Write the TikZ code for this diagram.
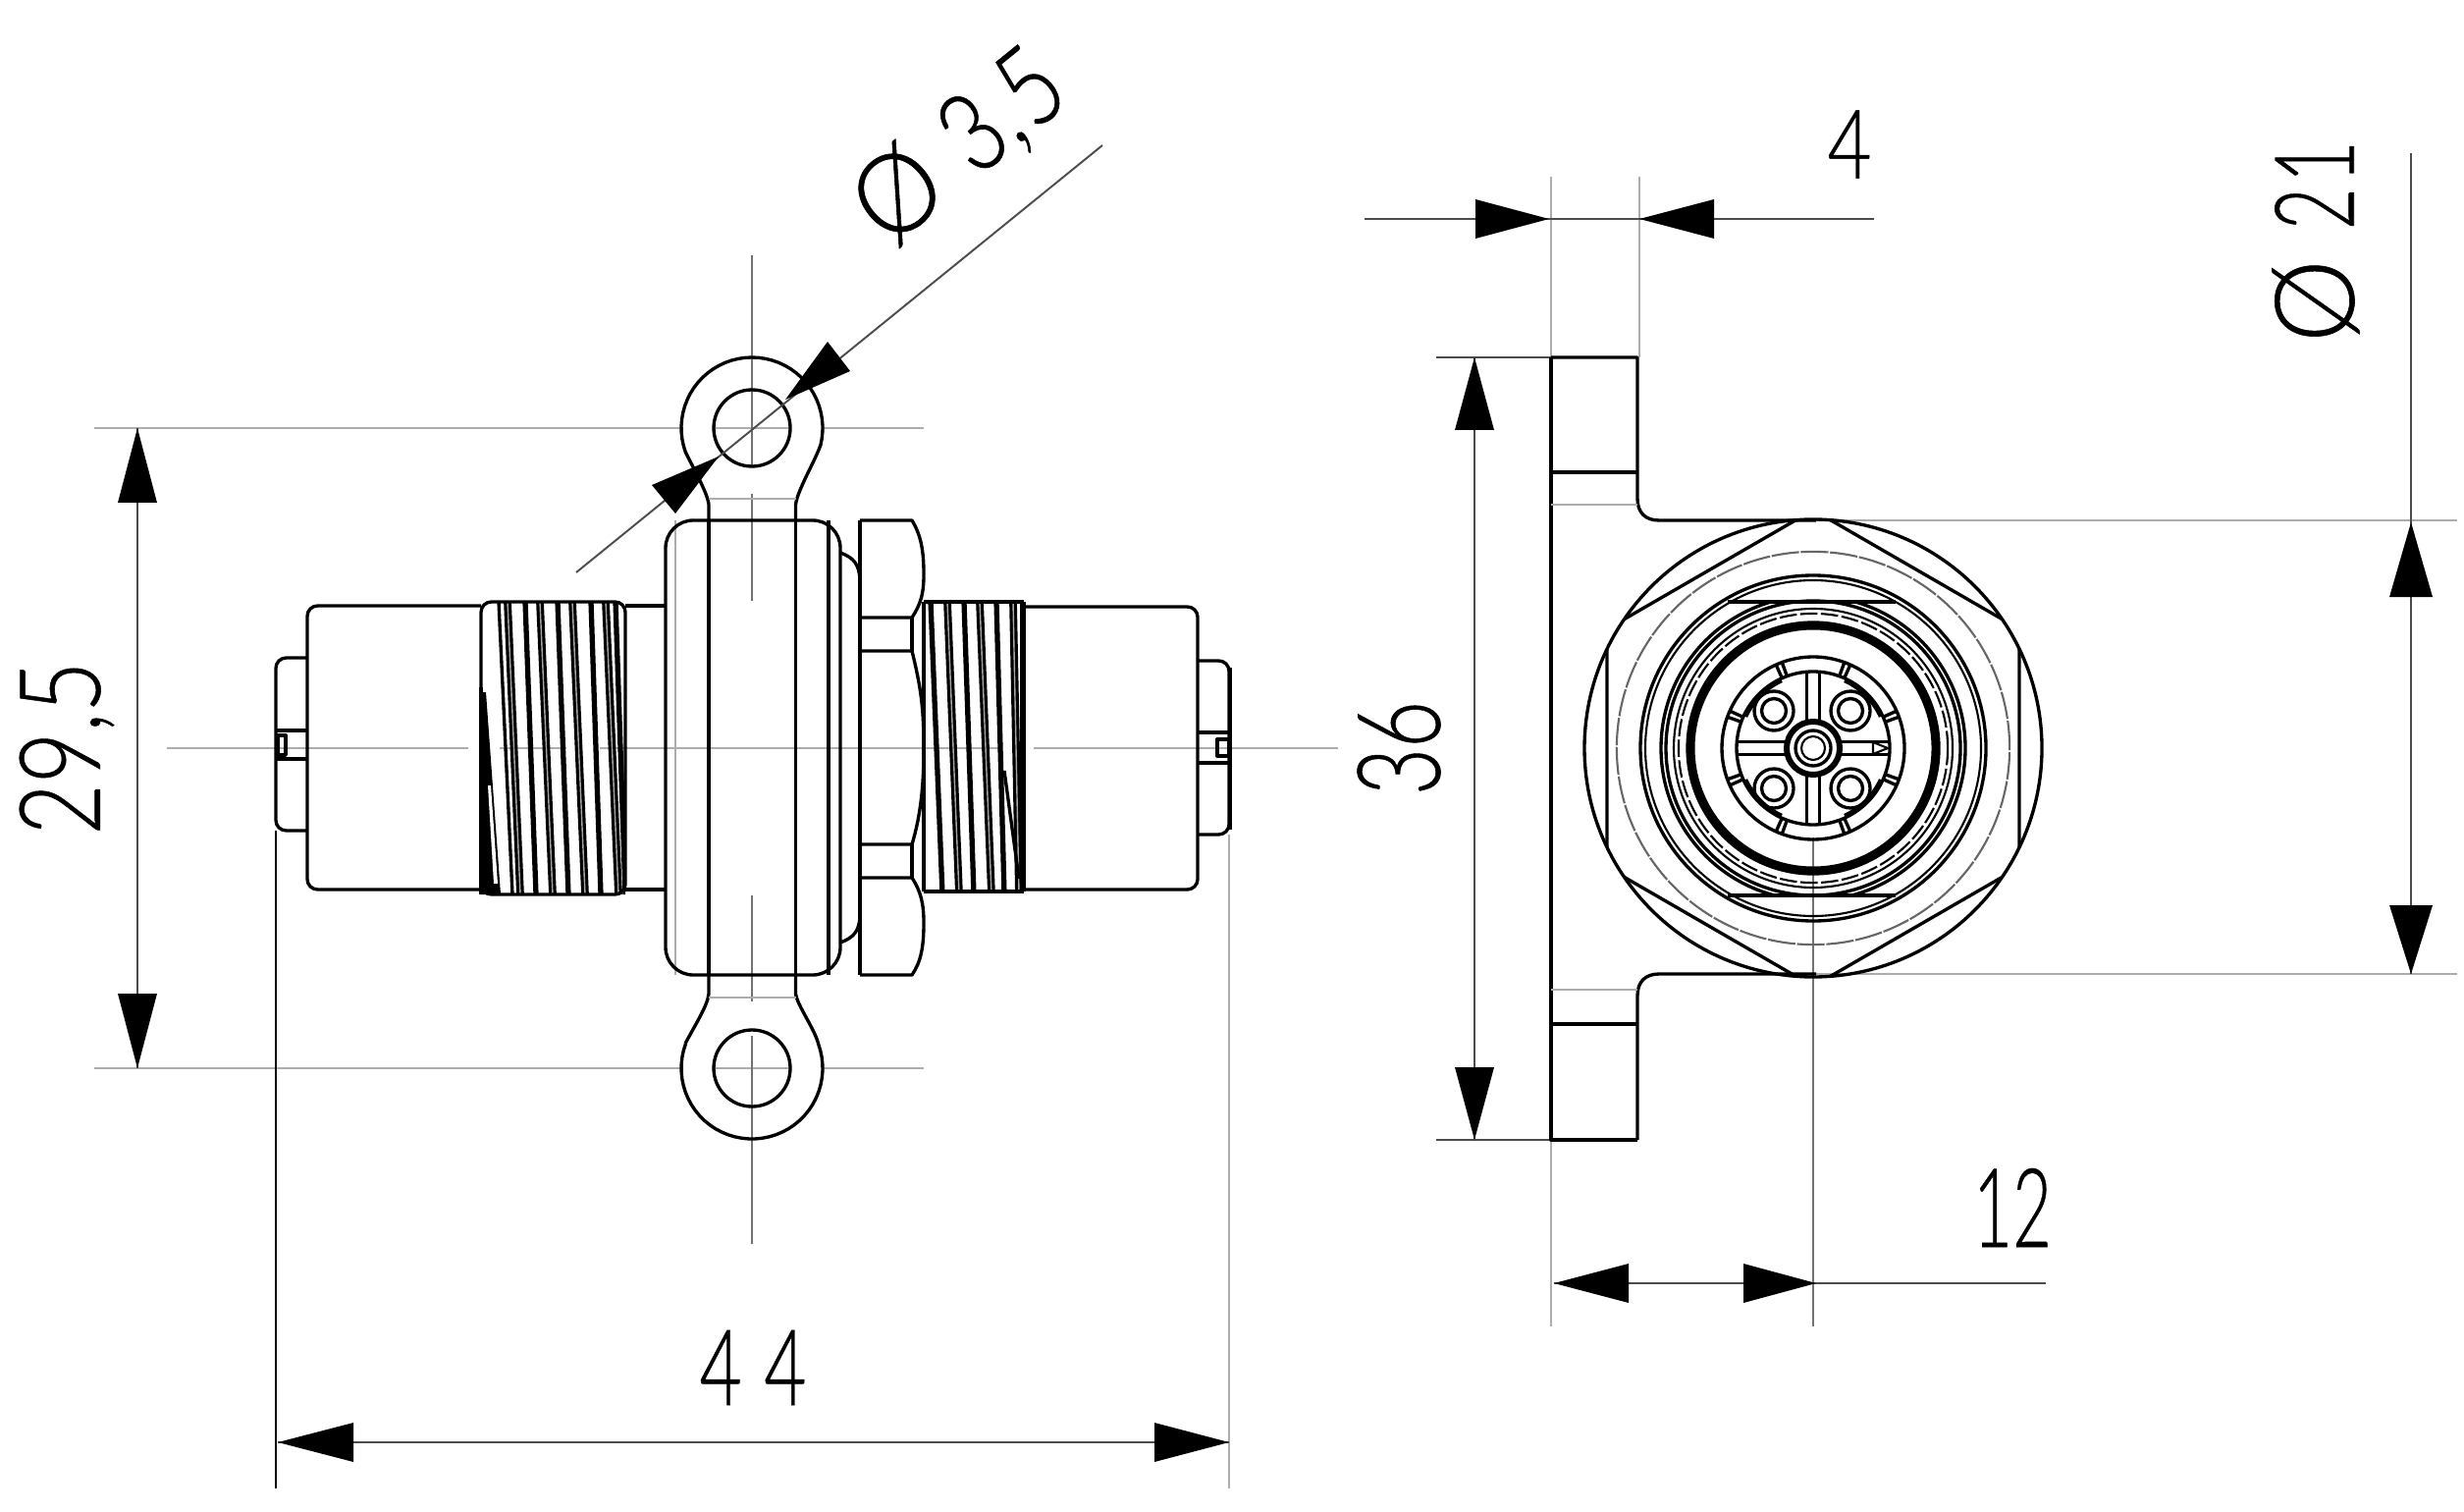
\documentclass[tikz,border=0pt]{standalone}
\usepackage{fontspec}
\usepackage{graphicx}
\newfontfamily\dn[FakeBold=0.5]{Lato Light}
\newcommand{\dimt}[3]{\resizebox{#1cm}{#2cm}{\dn #3}}
\newcommand{\dg}[1]{\scalebox{.8}[1]{#1}}
\newcommand{\dgn}[1]{\scalebox{.66}[1]{#1}}
\newcommand{\cir}[4][ol]{\draw[#1] (#2,#3) circle[radius=#4*0.01cm];}
\newcommand{\arcp}[6][ol]{\draw[#1] plot[domain=#5:#6,samples=30] ({#2+#4*cos(\x)},{#3-#4*sin(\x)});}
\newcommand{\thk}[2]{\draw[threadthick] (#1,613) -- (#2,911);}
\newcommand{\dbl}[2]{\draw[threaddouble] (#1,613) -- (#2,911);\draw[threadcore] (#1,613) -- (#2,911);}
\tikzset{
  ol/.style={line width=0.95pt,black,line join=round},
  olb/.style={line width=1.3pt,black,line join=round},
  olt/.style={line width=0.6pt,black,line join=round},
  threadthick/.style={line width=1.5pt,black},
  threaddouble/.style={line width=2.2pt,black},
  threadcore/.style={line width=0.4pt,black!35},
  ext/.style={line width=0.8pt,black!32},
  dimline/.style={line width=0.55pt,black!70},
  cl/.style={line width=0.5pt,black!55},
  hd/.style={fill=black,draw=none},
  lab/.style={inner sep=0pt,outer sep=0pt,black}
}
\begin{document}
\begin{tikzpicture}[x=0.01cm,y=-0.01cm]
\useasboundingbox (0,0) rectangle (2510,1540);
\fill[white] (0,0) rectangle (2510,1540);

% ---------- left view: centre and extension lines
\draw[ext] (96,436) -- (695,436) (727,436) -- (805,436) (839,436) -- (941,436);
\draw[ext] (96,1088) -- (695,1088) (727,1088) -- (805,1088) (839,1088) -- (941,1088);
\draw[ext] (170,762) -- (477,762) (509,762) -- (577,762) (611,762) -- (1018,762) (1053,762) -- (1363,762);
\draw[cl] (766,260) -- (766,475) (766,503) -- (766,612);
\draw[cl] (766,912) -- (766,1020) (766,1055) -- (766,1267);
\draw[ext] (688,530) -- (688,993);
\draw[dimline,black] (281,846) -- (281,1516);
\draw[ext] (1252,850) -- (1252,1516);

% eyelets
\cir{766}{436}{39}
\cir{766}{1088}{39}
\draw[ol] (722,530) -- (722,514) .. controls (721,503) and (708,480) .. (698,460)
  plot[domain=200:-14,samples=40] ({766+72*cos(\x)},{436-72*sin(\x)})
  .. controls (830,470) and (812,500) .. (810.5,514) -- (810.5,530);
\draw[ol] (722,993) -- (722,1012) .. controls (721,1024) and (708,1044) .. (698,1063)
  plot[domain=160:380,samples=40] ({766+72*cos(\x)},{1088-72*sin(\x)})
  .. controls (830,1048) and (812,1024) .. (810.5,1012) -- (810.5,993);
\draw[ext,line width=.6pt] (722,508) -- (810.5,508) (722,1016) -- (810.5,1016);

% clamp body
\draw[ol,rounded corners=8] (678,993) rectangle (856,530);
\draw[ol] (722,530) -- (722,993) (810.5,530) -- (810.5,993) (844,530) -- (844,993);
% washer
\draw[ol] (856,563) .. controls (870,568) and (875,575) .. (876,590);
\draw[ol] (856,960) .. controls (870,955) and (875,948) .. (876,934);
% nut
\draw[ol] (876,530) -- (876,993);
\draw[ol] (876,530) -- (929,530) .. controls (938,545) and (941,560) .. (941,585) .. controls (941,605) and (938,615) .. (929,629) -- (876,629);
\draw[ol] (876,663) -- (929,663) .. controls (938,700) and (941,720) .. (941,762) .. controls (941,800) and (938,830) .. (929,860) -- (876,860);
\draw[ol] (876,894) -- (929,894) .. controls (938,908) and (941,920) .. (941,940) .. controls (941,965) and (938,980) .. (929,993) -- (876,993);
\draw[ol] (929,629) -- (929,663) (929,860) -- (929,894);

% left body
\draw[ol,rounded corners=3] (490,617) -- (313,617) -- (313,906) -- (490,906);
\draw[ol] (637,617) -- (678,617) (637,906) -- (678,906);
\draw[ol,rounded corners=3] (313,670) -- (281,670) -- (281,846) -- (313,846);
\draw[ol] (281,744) -- (313,744) (281,773) -- (313,773);
\draw[ol] (283,749) rectangle (291,769);
% left thread
\begin{scope}
\clip (490,613) rectangle (637,911);
\thk{535}{546} \thk{568}{579} \thk{602}{612}
\dbl{517}{530} \dbl{550}{563} \dbl{583}{596} \dbl{617}{630}
\draw[ol] (508,613) -- (522,911);
\draw[threadthick] (627,613) -- (637,911);
\fill (489,705) -- (495,705) -- (510,911) -- (489,911) -- cycle;
\end{scope}
\fill[white] (497,800) -- (500,800) -- (507,900) -- (503,900) -- cycle;
\draw[ol,rounded corners=3] (490,613) rectangle (637,911);
\draw[olb] (490,700) -- (490,911);

% right thread and body
\begin{scope}
\clip (941,613) rectangle (1043,908);
\thk{948}{960} \thk{982}{992} \thk{1015}{1023}
\dbl{965}{977} \dbl{998}{1010} \dbl{1032}{1038}
\draw[ol] (1023,785) -- (1038,895);
\end{scope}
\draw[ol] (941,613) -- (1043,613) (941,908) -- (1043,908) (941,613) -- (941,908);
\draw[line width=1.7pt] (1042,613) -- (1042,908);
\draw[ol,rounded corners=3] (1043,618) -- (1220,618) -- (1220,906) -- (1043,906);
\draw[ol,rounded corners=3] (1220,673) -- (1252,673) -- (1252,850) -- (1220,850);
\draw[line width=1.2pt] (1253,680) -- (1253,845);
\draw[ol] (1220,746) -- (1252,746) (1220,777) -- (1252,777);
\draw[ol] (1240,753) rectangle (1252,770);

% ---------- dimension 44
\draw[dimline] (283,1469) -- (1252,1469);
\fill[hd] (283,1469) -- (360,1449) -- (360,1489) -- cycle;
\fill[hd] (1252,1469) -- (1176,1449) -- (1176,1489) -- cycle;
\node[lab] (t44) at (767,1393) {\dimt{1.09}{.76}{4\kern.3em 4}};

% dimension 29,5
\draw[dimline] (140,436) -- (140,1088);
\fill[hd] (140,436) -- (120,512) -- (160,512) -- cycle;
\fill[hd] (140,1088) -- (120,1012) -- (160,1012) -- cycle;
\node[lab,rotate=90] (t295) at (68,762) {\dimt{1.77}{.82}{29,5}};

% dimension dia 3,5
\draw[dimline] (587,583) -- (1123,148);
\fill[hd] (800,407) -- (843,348) -- (866,378) -- cycle;
\fill[hd] (732,465) -- (664,494) -- (688,523) -- cycle;
\node[lab,rotate=39] (t35) at (978,151) {\dn\fontsize{32pt}{32pt}\selectfont \scalebox{.95}[1]{Ø}\kern.3cm\dg{3,\kern.04cm 5}};

% ---------- right view
\draw[ext] (1580,180) -- (1580,364);
\draw[ext] (1670,180) -- (1670,364);
\draw[ext] (1580,1161) -- (1580,1351);
\draw[ext] (1850,530) -- (2503,530);
\draw[ext] (1850,992) -- (2503,992);
\draw[dimline] (1463,364) -- (1580,364);
\draw[dimline] (1463,1161) -- (1580,1161);
\draw[cl] (1847,853) -- (1847,1351);

% flange
\draw[ol] (1580,364) -- (1668,364) -- (1668,508) .. controls (1668,522) and (1676,530) .. (1690,530) -- (1850,530);
\draw[ol] (1668,1161) -- (1668,1014) .. controls (1668,1000) and (1676,992) .. (1690,992) -- (1850,992);
\draw[ol] (1580,364) -- (1580,1161) -- (1668,1161);
\draw[ol] (1580,481) -- (1668,481) (1580,1043) -- (1668,1043);
\draw[ext] (1580,514) -- (1668,514) (1580,1008) -- (1668,1008);

% nut
\cir{1847}{762}{233}
\begin{scope}
\clip (1847,762) circle[radius=2.33cm];
\draw[ol] (1847,519.5) -- (2057,640.75) -- (2057,883.25) -- (1847,1004.5) -- (1637,883.25) -- (1637,640.75) -- cycle;
\end{scope}
\draw[olt,black!60,dash pattern=on 8pt off .5pt] (1847,762) circle[radius=2cm];
\cir{1847}{762}{176}
\cir[olt]{1847}{762}{171}
\begin{scope}
\clip (1690,613) rectangle (2005,912);
\cir{1847}{762}{155}
\end{scope}
\draw[ol] (1760,613) -- (1931,613) (1760,912) -- (1931,912);
\cir{1847}{762}{150}
\cir[olt]{1847}{762}{142}
\draw[olt,dash pattern=on 5pt off 1pt] (1847,762) circle[radius=1.37cm];
\draw[line width=2.6pt] (1847,762) circle[radius=1.25cm];

% insert
\cir{1847}{762}{93}
\cir{1847}{762}{78}
\foreach \a in {22,68,112,158,202,248,292,338}{
  \draw[ol] ({1847+78*cos(\a-2)},{762-78*sin(\a-2)}) -- ({1847+92*cos(\a-2)},{762-92*sin(\a-2)});
  \draw[ol] ({1847+78*cos(\a+2)},{762-78*sin(\a+2)}) -- ({1847+92*cos(\a+2)},{762-92*sin(\a+2)});
}
\foreach \b in {45,135,225,315}{
  \arcp[line width=1.2pt]{1847}{762}{76}{\b-20}{\b+20}
}
\draw[ol] (1840.5,686) -- (1840.5,735) (1853.5,686) -- (1853.5,735);
\draw[ol] (1840.5,790) -- (1840.5,838) (1853.5,790) -- (1853.5,838);
\draw[ol] (1770,755.5) -- (1820,755.5) (1770,768.5) -- (1820,768.5);
\draw[ol] (1875,755.5) -- (1925,755.5) (1875,768.5) -- (1925,768.5);
\draw[olt] (1908,756) -- (1923,762) -- (1908,768) -- cycle;
\draw[line width=1.7pt] (1847,762) circle[radius=.27cm];
\cir{1847}{762}{18}
\cir[olt]{1847}{762}{12}
\foreach \px/\py in {1807/724,1885/724,1807/803,1885/803}{
  \cir{\px}{\py}{20}
  \cir{\px}{\py}{12.5}
}

% dimension 4
\draw[dimline] (1390,223) -- (1909,223);
\fill[hd] (1578,223) -- (1503,203) -- (1503,243) -- cycle;
\fill[hd] (1670,223) -- (1746,203) -- (1746,243) -- cycle;
\node[lab] (t4) at (1884,147) {\dimt{.45}{.69}{4}};

% dimension 36
\draw[dimline] (1502,364) -- (1502,1161);
\fill[hd] (1502,364) -- (1482,438) -- (1522,438) -- cycle;
\fill[hd] (1502,1161) -- (1482,1087) -- (1522,1087) -- cycle;
\node[lab,rotate=90] (t36) at (1425,762) {\dimt{.96}{.84}{36}};

% dimension 12
\draw[dimline] (1583,1307) -- (2084,1307);
\fill[hd] (1583,1307) -- (1659,1287) -- (1659,1327) -- cycle;
\fill[hd] (1850,1307) -- (1776,1287) -- (1776,1327) -- cycle;
\node[lab] (t12) at (2050,1230) {\dimt{.80}{.80}{12}};

% dimension dia 21
\draw[dimline] (2456,156) -- (2456,992);
\fill[hd] (2456,532) -- (2434,608) -- (2478,608) -- cycle;
\fill[hd] (2456,992) -- (2434,922) -- (2478,922) -- cycle;
\node[lab,rotate=90] (t21) at (2359,246) {\dn\fontsize{32pt}{32pt}\selectfont \scalebox{.95}[1]{Ø}\kern.3cm\dgn{2}\kern.05cm\dgn{1}};
\end{tikzpicture}
\end{document}
